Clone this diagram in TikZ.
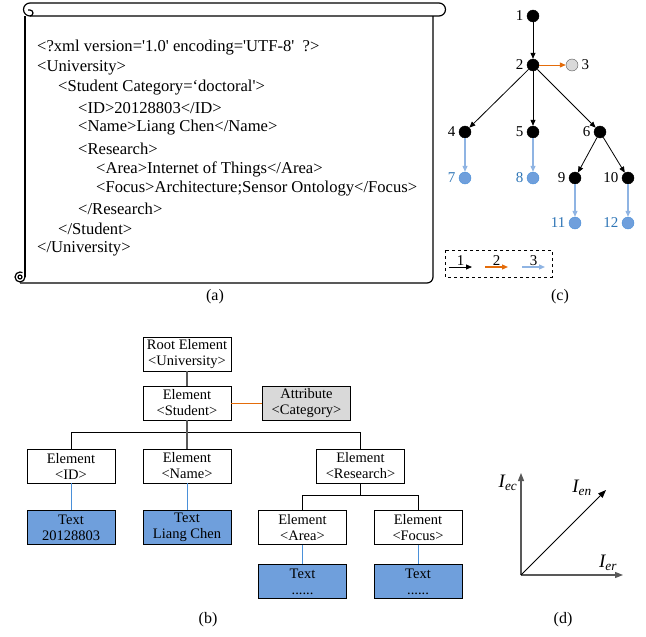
\documentclass[tikz,border=0pt]{standalone}
\usepackage{fontspec}
\setmainfont{Liberation Serif}
\usetikzlibrary{arrows.meta}
\definecolor{treeblue}{HTML}{6F9FDC}
\definecolor{lineblue}{HTML}{4A90D9}
\definecolor{paleblue}{HTML}{8FB4E3}
\definecolor{edgeorange}{HTML}{E46C0A}
\definecolor{numblue}{HTML}{2E75B6}
\definecolor{attrgray}{HTML}{D9D9D9}
\definecolor{axisgray}{HTML}{595959}
\tikzset{
  elem/.style={draw, minimum width=88pt, minimum height=34pt, inner sep=1pt, align=center, font=\fontsize{14.5}{16}\selectfont},
  textbox/.style={elem, fill=treeblue},
  dot/.style={circle, draw, fill=black, minimum size=12pt, inner sep=0pt},
  leaf/.style={dot, draw=lineblue, fill=treeblue},
  tip/.style={-{Triangle[length=6pt,width=5pt]}},
  xmlline/.style={anchor=west, inner sep=0pt, font=\fontsize{16.6}{20}\selectfont},
  caption/.style={font=\fontsize{16}{18}\selectfont}
}
\begin{document}
\begin{tikzpicture}[x=1pt, y=-1pt, font=\fontsize{15}{16}\selectfont]
\useasboundingbox (0,0) rectangle (646,637);
% (a) scroll
\begin{scope}[line width=1.2pt]
\draw (30,3) -- (439,3) arc[start angle=-90, end angle=90, radius=6.5] -- (30,16);
\draw (30,16) arc[start angle=90, end angle=270, radius=6.5];
\draw (30,16) arc[start angle=90, end angle=-90, radius=3] -- (28,10);
\draw (25,16) -- (25,277);
\draw (20,283) -- (427,283) arc[start angle=90, end angle=0, radius=6] -- (433,16);
\draw (25,277) arc[start angle=0, end angle=300, radius=5];
\draw (20,277) circle (2);
\end{scope}
\node[xmlline] (l1) at (37,48) {<?xml version=\textquotesingle1.0\textquotesingle{} encoding=\textquotesingle UTF-8\textquotesingle\ \ ?>};
\node[xmlline] (l2) at (37,68) {<University>};
\node[xmlline] (l3) at (58,88) {<Student Category=‘doctoral\textquotesingle>};
\node[xmlline] (l4) at (78,108) {<ID>20128803</ID>};
\node[xmlline] (l5) at (78,128) {<Name>Liang Chen</Name>};
\node[xmlline] (l6) at (78,149) {<Research>};
\node[xmlline] (l7) at (96,169) {<Area>Internet of Things</Area>};
\node[xmlline] (l8) at (96,189) {<Focus>Architecture;Sensor Ontology</Focus>};
\node[xmlline] (l9) at (78,209) {</Research>};
\node[xmlline] (l10) at (58,229) {</Student>};
\node[xmlline] (l11) at (37,249) {</University>};
\node[caption] (capa) at (215,297) {(a)};

% (c) tree
\node[dot, label=left:1] (n1) at (533,16) {};
\node[dot, label=left:2] (n2) at (533,65) {};
\node[dot, fill=attrgray, draw=axisgray, label=right:3] (n3) at (572,65) {};
\node[dot, label=left:4] (n4) at (465,132) {};
\node[dot, label=left:5] (n5) at (533,132) {};
\node[dot, label=left:6] (n6) at (600,132) {};
\node[leaf, label={[numblue]left:7}] (n7) at (465,178) {};
\node[leaf, label={[numblue]left:8}] (n8) at (533,178) {};
\node[dot, label=left:9] (n9) at (575,178) {};
\node[dot, label=left:10] (n10) at (628,178) {};
\node[leaf, label={[numblue]left:11}] (n11) at (575,223) {};
\node[leaf, label={[numblue]left:12}] (n12) at (628,223) {};
\foreach \a/\b in {n1/n2, n2/n4, n2/n5, n2/n6, n6/n9, n6/n10}
  \draw[tip, line width=0.8pt] (\a) -- (\b);
\draw[tip, line width=1pt, edgeorange] (n2) -- (n3);
\foreach \a/\b in {n4/n7, n5/n8, n9/n11, n10/n12}
  \draw[tip, line width=1.2pt, paleblue] (\a) -- (\b);
\draw[dashed, line width=0.8pt] (445,250) rectangle (552,277);
\coordinate (k1a) at (449,267); \coordinate (k1b) at (472,267);
\coordinate (k2a) at (485,267); \coordinate (k2b) at (508,267);
\coordinate (k3a) at (522,267); \coordinate (k3b) at (545,267);
\draw[tip, line width=0.8pt] (k1a) -- node[above, inner sep=1pt, text=black] {1} (k1b);
\draw[tip, line width=1.2pt, edgeorange] (k2a) -- node[above, inner sep=1pt, text=black] {2} (k2b);
\draw[tip, line width=1.2pt, paleblue] (k3a) -- node[above, inner sep=1pt, text=black] {3} (k3b);
\node[caption] (capc) at (560,297) {(c)};

% (b) element tree
\node[elem] (root) at (187,354) {Root Element\\<University>};
\node[elem] (student) at (187,403) {Element\\<Student>};
\node[elem, fill=attrgray] (attr) at (306.5,403) {Attribute\\<Category>};
\node[elem] (id) at (71,466) {Element\\<ID>};
\node[elem] (name) at (187,466) {Element\\<Name>};
\node[elem] (research) at (360.5,466) {Element\\<Research>};
\node[textbox] (tid) at (71,527.5) {Text\\20128803};
\node[textbox] (tname) at (187,527.5) {Text\\Liang Chen};
\node[elem] (area) at (302.5,527.5) {Element\\<Area>};
\node[elem] (focus) at (418,527.5) {Element\\<Focus>};
\node[textbox] (tarea) at (302.5,581.5) {Text\\......};
\node[textbox] (tfocus) at (418,581.5) {Text\\......};
\draw[axisgray, line width=1.2pt] (root) -- (student);
\draw[edgeorange, line width=1pt] (student) -- (attr);
\draw[line width=0.9pt] (student.south) -- ++(0,12) -| (id.north);
\draw[line width=0.9pt] (student.south) -- ++(0,12) -| (research.north);
\draw[axisgray, line width=1.2pt] (student) -- (name);
\draw[line width=0.9pt] (research.south) -- ++(0,12) -| (area.north);
\draw[line width=0.9pt] (research.south) -- ++(0,12) -| (focus.north);
\foreach \a/\b in {id/tid, name/tname, area/tarea, focus/tfocus}
  \draw[lineblue, line width=1pt] (\a) -- (\b);
\node[caption] (capb) at (208,620) {(b)};

% (d) axes
\coordinate (o) at (521,575);
\coordinate (ec) at (521,473);
\coordinate (er) at (623,575);
\coordinate (en) at (606,490);
\draw[-{Triangle[length=8pt,width=6pt]}, axisgray, line width=1.2pt] (o) -- (ec);
\draw[-{Triangle[length=8pt,width=6pt]}, axisgray, line width=1.2pt] (o) -- (er);
\draw[-{Triangle[length=8pt,width=6pt]}, line width=0.8pt] (o) -- (en);
\node[font=\fontsize{19}{20}\selectfont\itshape] (iec) at (508,483) {I\textsubscript{ec}};
\node[font=\fontsize{19}{20}\selectfont\itshape] (ien) at (582,488) {I\textsubscript{en}};
\node[font=\fontsize{19}{20}\selectfont\itshape] (ier) at (608,563) {I\textsubscript{er}};
\node[caption] (capd) at (563,620) {(d)};
\end{tikzpicture}
\end{document}
